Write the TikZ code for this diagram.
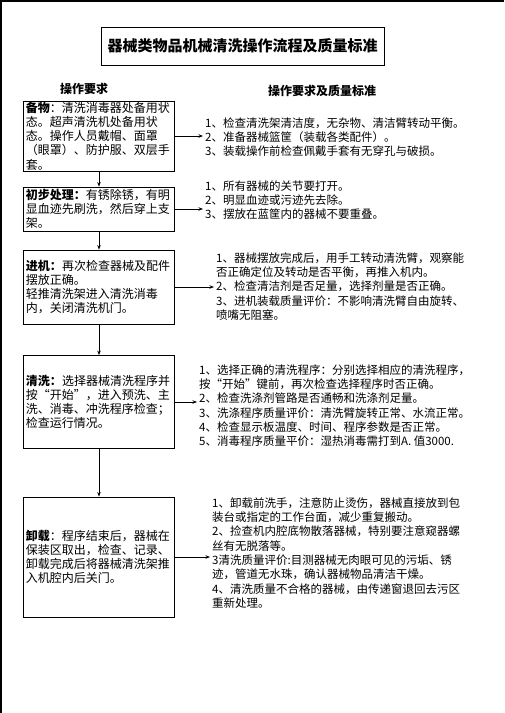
\documentclass[tikz,border=0pt]{standalone}
\usepackage{fontspec}
\newfontfamily\cjk{Noto Sans CJK SC}
\usetikzlibrary{arrows.meta,positioning}
\tikzset{
  box/.style={draw,line width=0.8pt,minimum width=151pt,text width=146pt,inner xsep=2pt,inner ysep=0pt,align=left,font=\cjk\fontsize{12}{14.2}\selectfont},
  note/.style={anchor=west,inner xsep=2pt,inner ysep=0pt,align=left,font=\cjk\fontsize{11.5}{14.3}\selectfont},
  arr/.style={line width=0.8pt,-{Stealth[length=4.5pt,width=3.5pt]}}
}
\begin{document}
\begin{tikzpicture}[x=1pt,y=-1pt]
	\useasboundingbox (0,0) rectangle (504,713);
	\draw[line width=1.5pt] (504,0.75) -- (0.75,0.75) -- (0.75,713);
	\node[draw,line width=0.8pt,minimum width=283pt,minimum height=38pt,font=\cjk\bfseries\fontsize{15}{18}\selectfont] (title) at (242.5,46) {器械类物品机械清洗操作流程及质量标准};
	\node[font=\cjk\bfseries\fontsize{12}{14}\selectfont] (h1) at (84,89) {操作要求};
	\node[font=\cjk\bfseries\fontsize{12}{14}\selectfont] (h2) at (322,91) {操作要求及质量标准};
	\node[box,minimum height=70pt] (b1) at (99,136) {\textbf{备物}：清洗消毒器处备用状\\态。超声清洗机处备用状\\态。操作人员戴帽、面罩\\（眼罩）、防护服、双层手\\套。};
	\node[box,minimum height=44pt] (b2) at (99,209) {\textbf{初步处理：}有锈除锈，有明\\显血迹先刷洗，然后穿上支\\架。};
	\node[box,minimum height=74pt] (b3) at (99,287) {\textbf{进机：}再次检查器械及配件\\摆放正确。\\轻推清洗架进入清洗消毒\\内，关闭清洗机门。};
	\node[box,minimum height=93pt] (b4) at (99,402) {\textbf{清洗：}选择器械清洗程序并\\按“开始”，进入预洗、主\\洗、消毒、冲洗程序检查；\\检查运行情况。};
	\node[box,minimum height=120pt] (b5) at (99,557) {\textbf{卸载}：程序结束后，器械在\\保装区取出，检查、记录、\\卸载完成后将器械清洗架推\\入机腔内后关门。};
	\node[note] (r1) at (203,137) {1、检查清洗架清洁度，无杂物、清洁臂转动平衡。\\2、准备器械篮筐（装载各类配件）。\\3、装载操作前检查佩戴手套有无穿孔与破损。};
	\node[note] (r2) at (203,200) {1、所有器械的关节要打开。\\2、明显血迹或污迹先去除。\\3、摆放在蓝筐内的器械不要重叠。};
	\node[note] (r3) at (214,286.5) {1、器械摆放完成后，用手工转动清洗臂，观察能\\否正确定位及转动是否平衡，再推入机内。\\2、检查清洁剂是否足量，选择剂量是否正确。\\3、进机装载质量评价：不影响清洗臂自由旋转、\\喷嘴无阻塞。};
	\node[note] (r4) at (197,405.5) {1、选择正确的清洗程序：分别选择相应的清洗程序，\\按“开始”键前，再次检查选择程序时否正确。\\2、检查洗涤剂管路是否通畅和洗涤剂足量。\\3、洗涤程序质量评价：清洗臂旋转正常、水流正常。\\4、检查显示板温度、时间、程序参数是否正常。\\5、消毒程序质量平价：湿热消毒需打到A. 值3000.};
	\node[note] (r5) at (210,553) {1、卸载前洗手，注意防止烫伤，器械直接放到包\\装台或指定的工作台面，减少重复搬动。\\2、捡查机内腔底物散落器械，特别要注意窥器螺\\丝有无脱落等。\\3清洗质量评价:目测器械无肉眼可见的污垢、锈\\迹，管道无水珠，确认器械物品清洁干燥。\\4、清洗质量不合格的器械，由传递窗退回去污区\\重新处理。};
	\draw[arr] (b1) -- (b2);
	\draw[arr] (b2) -- (b3);
	\draw[arr] (b3) -- (b4);
	\draw[arr] (b4) -- (b5);
	\draw[arr] (b1.east) -- (b1.east -| r1.west);
	\draw[arr] (b2.east) -- (b2.east -| r2.west);
	\draw[arr] (b3.east) -- (b3.east -| r3.west);
	\draw[arr] (b4.east) -- (b4.east -| r4.west);
	\draw[arr] (b5.east) -- (b5.east -| r5.west);
\end{tikzpicture}
\end{document}
